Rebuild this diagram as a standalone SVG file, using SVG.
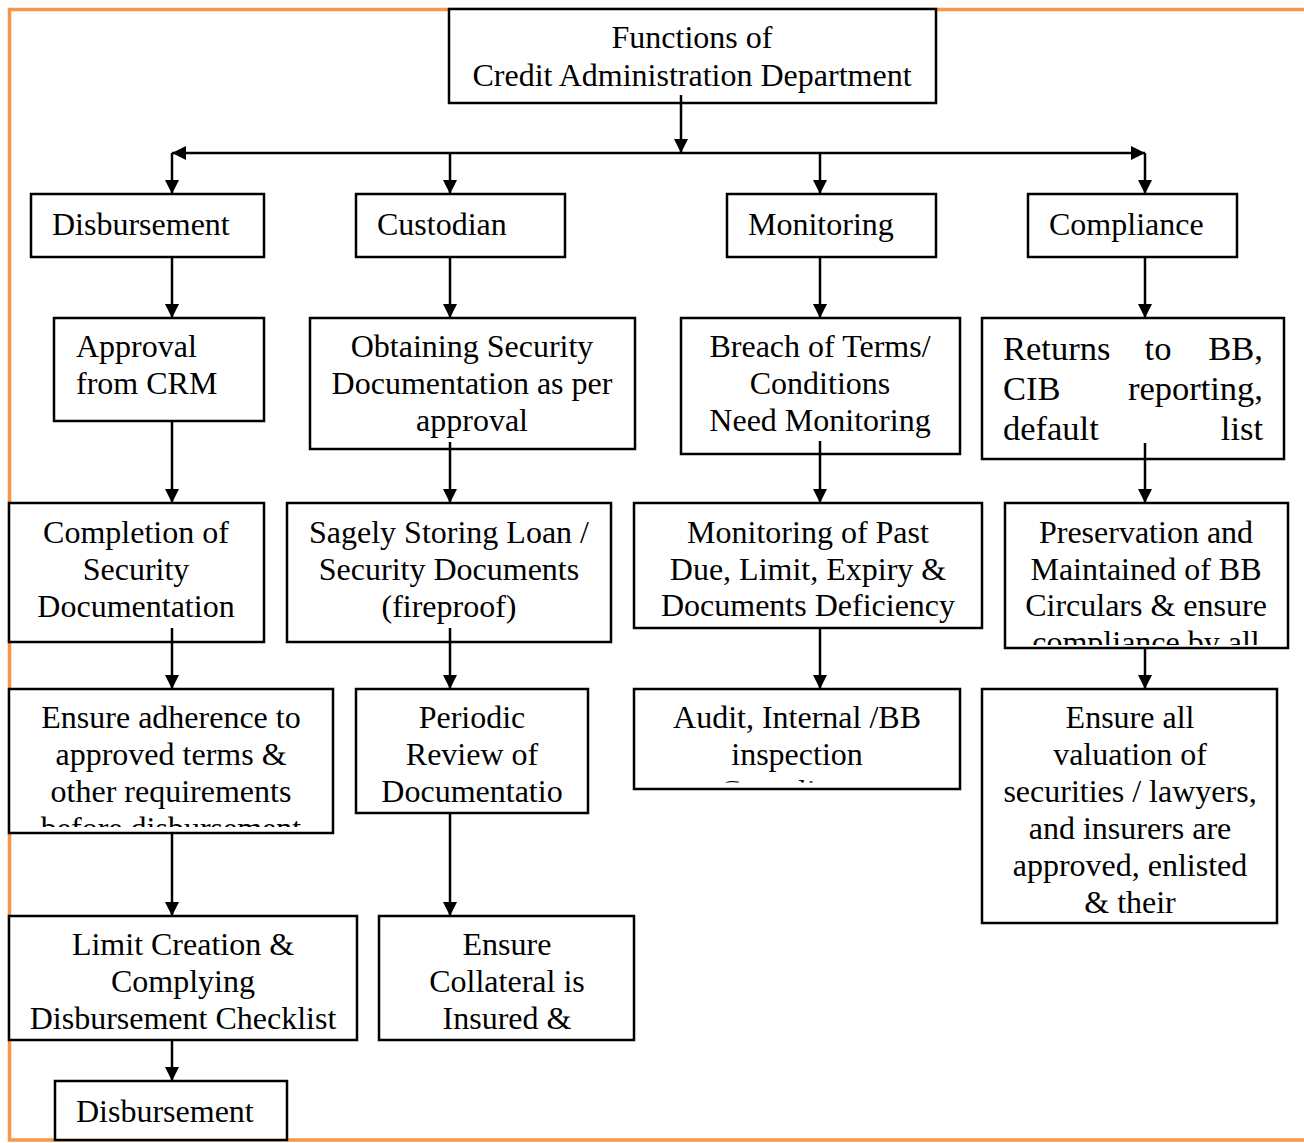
<svg xmlns="http://www.w3.org/2000/svg" width="1304" height="1143" viewBox="0 0 1304 1143">
<style>
.box{fill:#fff;stroke:#000;stroke-width:2.5}
.t{font-family:"Liberation Serif","Times New Roman",serif;font-size:32px;fill:#000}
.big{font-size:34.5px}
.c{text-anchor:middle}
.e{text-anchor:end}
.ln{stroke:#000;stroke-width:2.5;fill:none}
</style>
<defs>
<marker id="ah" markerUnits="userSpaceOnUse" markerWidth="15" markerHeight="14" refX="14" refY="7" orient="auto">
<path d="M0,0 L14,7 L0,14 z" fill="#000"/>
</marker>
<clipPath id="cp1"><rect x="10" y="690" width="322" height="137"/></clipPath>
<clipPath id="cp2"><rect x="1006" y="504" width="281" height="141"/></clipPath>
<clipPath id="cp3"><rect x="635" y="690" width="324" height="92.5"/></clipPath>
</defs>
<rect x="9.5" y="9.5" width="1310" height="1130.5" fill="none" stroke="#F79646" stroke-width="3.5"/>

<g id="title">
<rect class="box" x="449" y="9" width="487" height="94"/>
<text class="t c" x="692" y="48">Functions of</text>
<text class="t c" x="692" y="86">Credit Administration Department</text>
</g>

<g id="disbursement"><rect class="box" x="31" y="194" width="233" height="63"/><text class="t" x="52" y="235">Disbursement</text></g>
<g id="custodian"><rect class="box" x="356" y="194" width="209" height="63"/><text class="t" x="377" y="235">Custodian</text></g>
<g id="monitoring"><rect class="box" x="727" y="194" width="209" height="63"/><text class="t" x="748" y="235">Monitoring</text></g>
<g id="compliance"><rect class="box" x="1028" y="194" width="209" height="63"/><text class="t" x="1049" y="235">Compliance</text></g>

<g id="approval"><rect class="box" x="54" y="318" width="210" height="103"/>
<text class="t" x="76" y="357">Approval</text><text class="t" x="76" y="394">from CRM</text></g>
<g id="obtaining"><rect class="box" x="310" y="318" width="325" height="131"/>
<text class="t c" x="472" y="357">Obtaining Security</text><text class="t c" x="472" y="394">Documentation as per</text><text class="t c" x="472" y="431">approval</text></g>
<g id="breach"><rect class="box" x="681" y="318" width="279" height="136"/>
<text class="t c" x="820" y="357">Breach of Terms/</text><text class="t c" x="820" y="394">Conditions</text><text class="t c" x="820" y="431">Need Monitoring</text></g>
<g id="returns"><rect class="box" x="982" y="318" width="302" height="141"/>
<text class="t big" x="1003" y="360">Returns</text><text class="t big c" x="1158" y="360">to</text><text class="t big e" x="1263" y="360">BB,</text>
<text class="t big" x="1003" y="400">CIB</text><text class="t big e" x="1263" y="400">reporting,</text>
<text class="t big" x="1003" y="440">default</text><text class="t big e" x="1263" y="440">list</text></g>

<g id="completion"><rect class="box" x="9" y="503" width="255" height="139"/>
<text class="t c" x="136" y="543">Completion of</text><text class="t c" x="136" y="580">Security</text><text class="t c" x="136" y="617">Documentation</text></g>
<g id="storing"><rect class="box" x="287" y="503" width="324" height="139"/>
<text class="t c" x="449" y="543">Sagely Storing Loan /</text><text class="t c" x="449" y="580">Security Documents</text><text class="t c" x="449" y="617">(fireproof)</text></g>
<g id="pastdue"><rect class="box" x="634" y="503" width="348" height="125"/>
<text class="t c" x="808" y="543">Monitoring of Past</text><text class="t c" x="808" y="580">Due, Limit, Expiry &amp;</text><text class="t c" x="808" y="616">Documents Deficiency</text></g>
<g id="preservation"><rect class="box" x="1005" y="503" width="283" height="145"/>
<g clip-path="url(#cp2)"><text class="t c" x="1146" y="543">Preservation and</text><text class="t c" x="1146" y="580">Maintained of BB</text><text class="t c" x="1146" y="616">Circulars &amp; ensure</text><text class="t c" x="1146" y="653">compliance by all</text></g></g>

<g id="adherence"><rect class="box" x="9" y="689" width="324" height="144"/>
<g clip-path="url(#cp1)"><text class="t c" x="171" y="728">Ensure adherence to</text><text class="t c" x="171" y="765">approved terms &amp;</text><text class="t c" x="171" y="802">other requirements</text><text class="t c" x="171" y="839">before disbursement</text></g></g>
<g id="periodic"><rect class="box" x="356" y="689" width="232" height="124"/>
<text class="t c" x="472" y="728">Periodic</text><text class="t c" x="472" y="765">Review of</text><text class="t c" x="472" y="802">Documentatio</text></g>
<g id="audit"><rect class="box" x="634" y="689" width="326" height="100"/>
<g clip-path="url(#cp3)"><text class="t c" x="797" y="728">Audit, Internal /BB</text><text class="t c" x="797" y="765">inspection</text><text class="t c" x="797" y="802">Compliance</text></g></g>
<g id="valuation"><rect class="box" x="982" y="689" width="295" height="234"/>
<text class="t c" x="1130" y="728">Ensure all</text><text class="t c" x="1130" y="765">valuation of</text><text class="t c" x="1130" y="802">securities / lawyers,</text><text class="t c" x="1130" y="839">and insurers are</text><text class="t c" x="1130" y="876">approved, enlisted</text><text class="t c" x="1130" y="913">&amp; their</text></g>

<g id="limit"><rect class="box" x="9" y="916" width="348" height="124"/>
<text class="t c" x="183" y="955">Limit Creation &amp;</text><text class="t c" x="183" y="992">Complying</text><text class="t c" x="183" y="1029">Disbursement Checklist</text></g>
<g id="collateral"><rect class="box" x="379" y="916" width="255" height="124"/>
<text class="t c" x="507" y="955">Ensure</text><text class="t c" x="507" y="992">Collateral is</text><text class="t c" x="507" y="1029">Insured &amp;</text></g>

<g id="disbursement2"><rect class="box" x="55" y="1081" width="232" height="59"/>
<text class="t" x="76" y="1122">Disbursement</text></g>

<g id="connectors">
<line class="ln" x1="681" y1="95" x2="681" y2="153" marker-end="url(#ah)"/>
<line class="ln" x1="681" y1="153" x2="172" y2="153" marker-end="url(#ah)"/>
<line class="ln" x1="681" y1="153" x2="1145" y2="153" marker-end="url(#ah)"/>
<line class="ln" x1="172" y1="153" x2="172" y2="194" marker-end="url(#ah)"/>
<line class="ln" x1="450" y1="153" x2="450" y2="194" marker-end="url(#ah)"/>
<line class="ln" x1="820" y1="153" x2="820" y2="194" marker-end="url(#ah)"/>
<line class="ln" x1="1145" y1="153" x2="1145" y2="194" marker-end="url(#ah)"/>
<line class="ln" x1="172" y1="257" x2="172" y2="318" marker-end="url(#ah)"/>
<line class="ln" x1="450" y1="257" x2="450" y2="318" marker-end="url(#ah)"/>
<line class="ln" x1="820" y1="257" x2="820" y2="318" marker-end="url(#ah)"/>
<line class="ln" x1="1145" y1="257" x2="1145" y2="318" marker-end="url(#ah)"/>
<line class="ln" x1="172" y1="421" x2="172" y2="503" marker-end="url(#ah)"/>
<line class="ln" x1="450" y1="442" x2="450" y2="503" marker-end="url(#ah)"/>
<line class="ln" x1="820" y1="441" x2="820" y2="503" marker-end="url(#ah)"/>
<line class="ln" x1="1145" y1="443" x2="1145" y2="503" marker-end="url(#ah)"/>
<line class="ln" x1="172" y1="628" x2="172" y2="689" marker-end="url(#ah)"/>
<line class="ln" x1="450" y1="628" x2="450" y2="689" marker-end="url(#ah)"/>
<line class="ln" x1="820" y1="628" x2="820" y2="689" marker-end="url(#ah)"/>
<line class="ln" x1="1145" y1="648" x2="1145" y2="689" marker-end="url(#ah)"/>
<line class="ln" x1="172" y1="833" x2="172" y2="916" marker-end="url(#ah)"/>
<line class="ln" x1="450" y1="813" x2="450" y2="916" marker-end="url(#ah)"/>
<line class="ln" x1="172" y1="1040" x2="172" y2="1081" marker-end="url(#ah)"/>
</g>
</svg>
